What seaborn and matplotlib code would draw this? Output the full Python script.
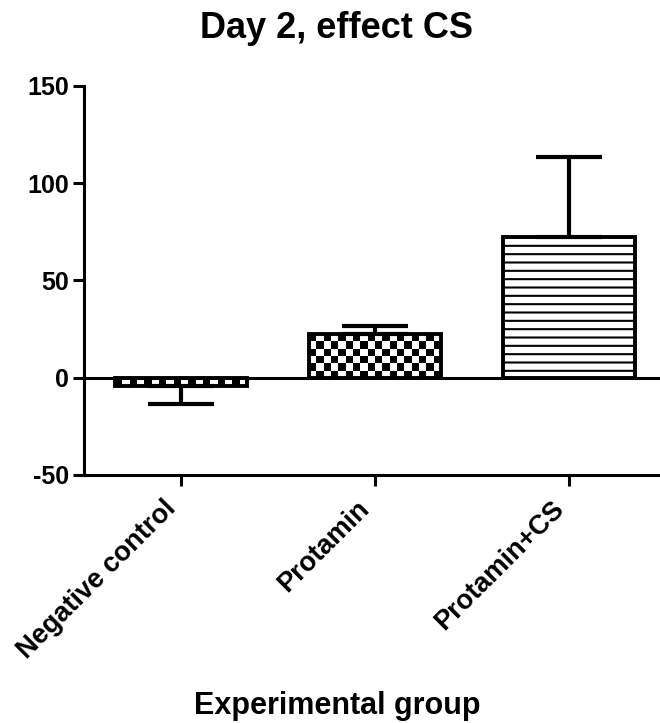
import matplotlib
matplotlib.use("Agg")
import matplotlib.pyplot as plt
import numpy as np
import pandas as pd
import seaborn as sns


GROUPS = ["Negative control", "Protamin", "Protamin+CS"]
MEANS = [-4.3, 22.3, 72.5]
ERRORS = [9.4, 4.3, 40.7]
Y_TICKS = [-50, 0, 50, 100, 150]
TITLE = "Day 2, effect CS"
X_LABEL = "Experimental group"


def add_checker(ax, patch, cell_px=7.4):
    # checkerboard fill clipped to a bar (matplotlib has no such hatch)
    x0, x1 = patch.get_x(), patch.get_x() + patch.get_width()
    y0, y1 = sorted([patch.get_y(), patch.get_y() + patch.get_height()])
    (px0, py0), (px1, py1) = ax.transData.transform([(x0, y0), (x1, y1)])
    ncols = max(1, int(round((px1 - px0) / cell_px)))
    nrows = max(1, int(round(abs(py1 - py0) / cell_px)))
    board = (np.indices((nrows, ncols)).sum(axis=0) % 2).astype(float)
    img = ax.imshow(
        board, cmap="gray", vmin=0, vmax=1, extent=(x0, x1, y0, y1),
        origin="upper", aspect="auto", interpolation="nearest", zorder=0.9,
    )
    img.set_clip_path(patch)
    patch.set_facecolor("none")


sns.set_style("ticks")
plt.rcParams["font.family"] = ["Liberation Sans", "DejaVu Sans"]
plt.rcParams["font.weight"] = "bold"
plt.rcParams["text.color"] = "black"
plt.rcParams["xtick.color"] = "black"
plt.rcParams["ytick.color"] = "black"
plt.rcParams["axes.unicode_minus"] = False
plt.rcParams["hatch.linewidth"] = 1.5
plt.rcParams["hatch.color"] = "black"

frame = pd.DataFrame({"group": GROUPS, "value": MEANS, "error": ERRORS})

fig = plt.figure(figsize=(6.6, 7.23), dpi=100)
ax = fig.add_axes([84 / 660, 1 - 475 / 723, 1 - 84 / 660, (475 - 85.7) / 723])

sns.barplot(
    data=frame, x="group", y="value", color="white", saturation=1,
    edgecolor="black", linewidth=2.8, width=0.68, errorbar=None, ax=ax,
)

# one-sided error bars, pointing away from zero
lower = [e if m < 0 else 0 for m, e in zip(MEANS, ERRORS)]
upper = [e if m >= 0 else 0 for m, e in zip(MEANS, ERRORS)]
ax.errorbar(
    np.arange(len(GROUPS)), frame["value"], yerr=[lower, upper], fmt="none",
    ecolor="black", elinewidth=3, capsize=24, capthick=3, zorder=2,
)

ax.set_ylim(-50, 150)
ax.set_xlim(-0.5, 2.47)
ax.set_yticks(Y_TICKS)
ax.axhline(0, color="black", lw=2.2, zorder=3)

add_checker(ax, ax.patches[0])
add_checker(ax, ax.patches[1])
ax.patches[2].set_hatch("--")

sns.despine(ax=ax)
for side in ["left", "bottom"]:
    ax.spines[side].set_linewidth(2.2)
    ax.spines[side].set_color("black")

ax.tick_params(axis="both", direction="out", length=8, width=2.2, color="black")
ax.tick_params(axis="y", pad=3, labelsize=18)
ax.tick_params(axis="x", pad=7, labelsize=19.5)
plt.setp(ax.get_xticklabels(), rotation=45, ha="right")
ax.set_xlabel("")
ax.set_ylabel("")

fig.text(337 / 660, 1 - 38 / 723, TITLE, ha="center", va="baseline", fontsize=26, weight="bold")
fig.text(337 / 660, 1 - 714 / 723, X_LABEL, ha="center", va="baseline", fontsize=22, weight="bold")

fig.savefig("out.png", dpi=100)
plt.close(fig)
